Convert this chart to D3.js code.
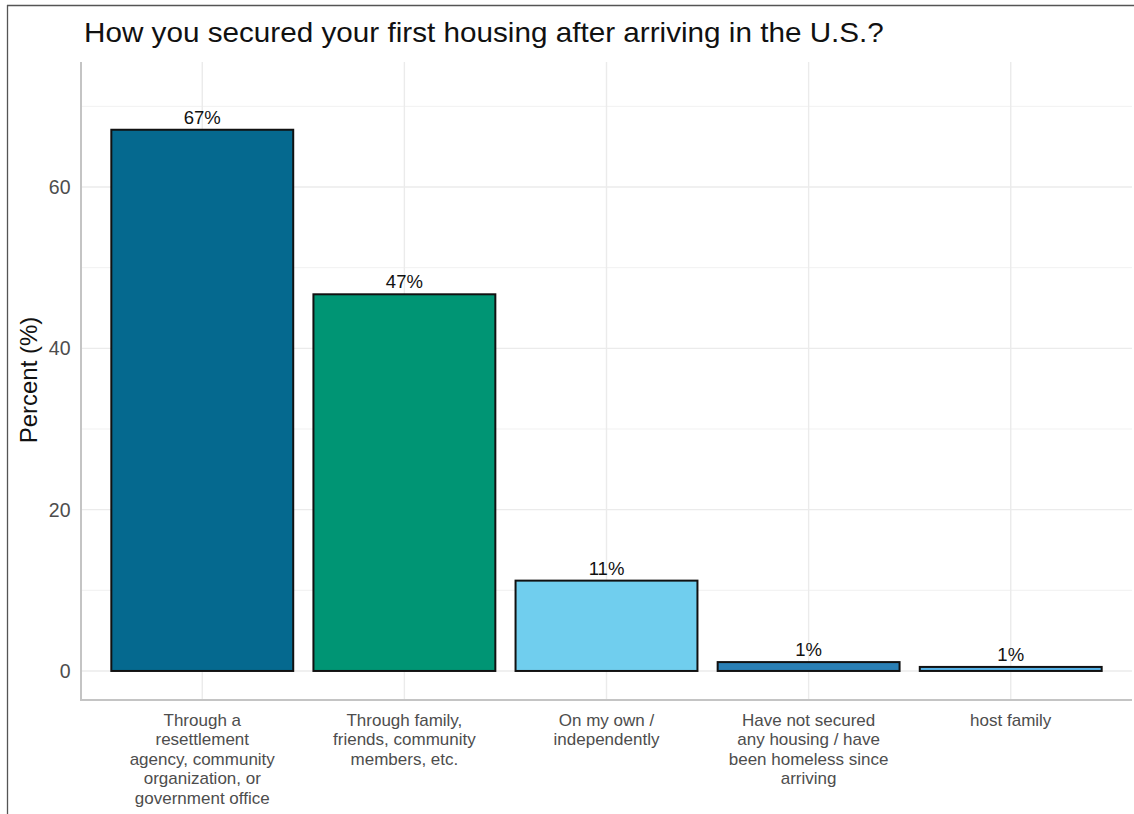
<!DOCTYPE html>
<html>
<head>
<meta charset="utf-8">
<script src="https://cdn.jsdelivr.net/npm/d3@7"></script>
<style>
  html, body { margin: 0; padding: 0; background: #fff; }
  svg { display: block; font-family: "Liberation Sans", Arial, Helvetica, sans-serif; }
</style>
</head>
<body>
<svg id="chart" width="1134" height="814"></svg>
<script>
// Survey responses: how respondents found their first housing
const categories = [
  ["Through a", "resettlement", "agency, community", "organization, or", "government office"],
  ["Through family,", "friends, community", "members, etc."],
  ["On my own /", "independently"],
  ["Have not secured", "any housing / have", "been homeless since", "arriving"],
  ["host family"]
];
const categoryKeys = ["resettlement", "family", "own", "homeless", "host"];
const percents = [67.1, 46.7, 11.2, 1.1, 0.5];
const valueLabels = ["67%", "47%", "11%", "1%", "1%"];
const barColors = ["#05698f", "#009574", "#70ceee", "#2a80b6", "#56b4e9"];
const yTicks = [0, 20, 40, 60];
const yMinorTicks = [10, 30, 50, 70];
const title = "How you secured your first housing after arriving in the U.S.?";
const yTitle = "Percent (%)";

const svg = d3.select("#chart");
const W = 1134, H = 814;
const panel = { left: 81, right: 1132, top: 62, bottom: 700 };

// outer frame (top and left edges)
svg.append("line").attr("x1", 7).attr("x2", W).attr("y1", 5.5).attr("y2", 5.5)
  .attr("stroke", "#555").attr("stroke-width", 1.3);
svg.append("line").attr("x1", 7.5).attr("x2", 7.5).attr("y1", 5).attr("y2", H)
  .attr("stroke", "#555").attr("stroke-width", 1.3);

// discrete x scale: bars take 90% of each step, 0.6 step expansion at both ends
const x = d3.scaleBand()
  .domain(categoryKeys)
  .range([panel.left, panel.right])
  .paddingInner(0.1)
  .paddingOuter(0.15);

const y = d3.scaleLinear()
  .domain([-3.6, 75.5])
  .range([panel.bottom, panel.top]);

const cx = d => x(d) + x.bandwidth() / 2;
const g = svg.append("g");

// grid: minor, major horizontal, and category verticals
g.selectAll(".minor").data(yMinorTicks).join("line")
  .attr("x1", panel.left).attr("x2", panel.right)
  .attr("y1", d => y(d)).attr("y2", d => y(d))
  .attr("stroke", "#f1f1f1").attr("stroke-width", 1);
g.selectAll(".major").data(yTicks).join("line")
  .attr("x1", panel.left).attr("x2", panel.right)
  .attr("y1", d => y(d)).attr("y2", d => y(d))
  .attr("stroke", "#ebebeb").attr("stroke-width", 1.4);
g.selectAll(".vgrid").data(categoryKeys).join("line")
  .attr("x1", cx).attr("x2", cx)
  .attr("y1", panel.top).attr("y2", panel.bottom)
  .attr("stroke", "#ebebeb").attr("stroke-width", 1.4);

// axis lines
svg.append("line").attr("x1", panel.left).attr("x2", panel.left)
  .attr("y1", panel.top).attr("y2", panel.bottom + 1)
  .attr("stroke", "#c4c4c4").attr("stroke-width", 2);
svg.append("line").attr("x1", panel.left - 1).attr("x2", panel.right)
  .attr("y1", panel.bottom).attr("y2", panel.bottom)
  .attr("stroke", "#c4c4c4").attr("stroke-width", 2);

// bars
g.selectAll(".bar").data(categoryKeys).join("rect")
  .attr("x", d => x(d))
  .attr("width", x.bandwidth())
  .attr("y", (d, i) => y(percents[i]))
  .attr("height", (d, i) => y(0) - y(percents[i]))
  .attr("fill", (d, i) => barColors[i])
  .attr("stroke", "#111")
  .attr("stroke-width", 2);

// value labels
g.selectAll(".val").data(categoryKeys).join("text")
  .attr("x", cx)
  .attr("y", (d, i) => y(percents[i]) - 6)
  .attr("text-anchor", "middle")
  .attr("font-size", 18.5)
  .attr("fill", "#111")
  .text((d, i) => valueLabels[i]);

// y ticks
svg.selectAll(".ytick").data(yTicks).join("text")
  .attr("x", 70.5)
  .attr("y", d => y(d))
  .attr("dy", "0.36em")
  .attr("text-anchor", "end")
  .attr("font-size", 19.5)
  .attr("fill", "#4d4d4d")
  .text(d => d);

// x category labels
const xl = svg.selectAll(".xlab").data(categoryKeys).join("text")
  .attr("text-anchor", "middle")
  .attr("font-size", 17)
  .attr("fill", "#4d4d4d");
xl.each(function(d, i) {
  const t = d3.select(this);
  categories[i].forEach((line, j) => {
    t.append("tspan")
      .attr("x", cx(d))
      .attr("y", 726 + j * 19.4)
      .text(line);
  });
});

// y title
svg.append("text")
  .attr("transform", `translate(37,380) rotate(-90)`)
  .attr("text-anchor", "middle")
  .attr("font-size", 24)
  .attr("fill", "#111")
  .text(yTitle);

// title
svg.append("text")
  .attr("transform", "translate(84,42) scale(1.06,1)")
  .attr("font-size", 28)
  .attr("fill", "#111")
  .text(title);
</script>
</body>
</html>
